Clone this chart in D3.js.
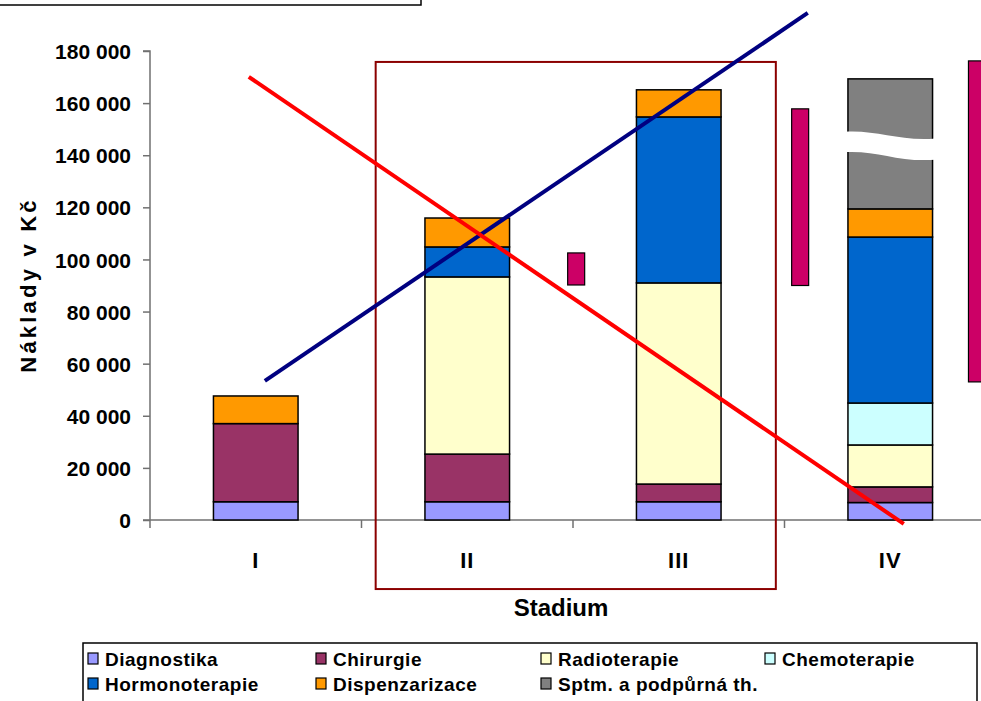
<!DOCTYPE html>
<html>
<head>
<meta charset="utf-8">
<script src="https://cdn.jsdelivr.net/npm/d3@7/dist/d3.min.js"></script>
<style>
  html, body { margin: 0; padding: 0; background: #fff; }
  svg { display: block; }
  text { font-family: "Liberation Sans", Arial, sans-serif; font-weight: bold; fill: #000; }
</style>
</head>
<body>
<svg id="chart" width="981" height="701"></svg>
<script>
// ---------- data ----------
const categories = ["I", "II", "III", "IV"];
const seriesNames = ["Diagnostika", "Chirurgie", "Radioterapie", "Chemoterapie", "Hormonoterapie", "Dispenzarizace", "Sptm. a podpůrná th."];
const seriesColors = ["#9999FF", "#993366", "#FFFFCC", "#CCFFFF", "#0066CC", "#FF9900", "#808080"];
const diagnostika    = [7000, 7000, 7000, 6700];
const chirurgie      = [30000, 18300, 6800, 6000];
const radioterapie   = [0, 68000, 77200, 16100];
const chemoterapie   = [0, 0, 0, 16100];
const hormonoterapie = [0, 11500, 63700, 63700];
const dispenzarizace = [10600, 11100, 10400, 10800];
const sptm           = [0, 0, 0, 49900];
const yTicks = [0, 20000, 40000, 60000, 80000, 100000, 120000, 140000, 160000, 180000];

// break in the IV bar (values of top/bottom edge at left and right side)
const breakCategory = "IV";
const breakTop = [149000, 146400];
const breakBottom = [141200, 138300];

// magenta range bars: position in category units (0 = I ... 3 = IV), low/high values
const rangePos = [1.515, 2.574, 3.41];
const rangeLow = [90200, 90000, 53000];
const rangeHigh = [102500, 157800, 176200];

// annotation lines: [x in category units, value]
const redLine = [[-0.033, 170100], [3.064, -1500]];
const blueLine = [[0.043, 53400], [2.61, 194600]];
// dark red frame around II and III
const frameX = [0.567, 2.459];
const frameY = [-26500, 175800];

// ---------- scales ----------
const svg = d3.select("#chart");
const plotLeft = 150, plotRight = 996, plotTop = 51, plotBottom = 520;
const x = d3.scaleBand().domain(categories).range([plotLeft, plotRight]).padding(0);
const xu = d3.scaleLinear().domain([-0.5, categories.length - 0.5]).range([plotLeft, plotRight]);
const y = d3.scaleLinear().domain([0, 180000]).range([plotBottom, plotTop]);
const barW = x.bandwidth() * 0.4;

// top box
svg.append("rect").attr("x", -2).attr("y", -2).attr("width", 423).attr("height", 7)
  .attr("fill", "none").attr("stroke", "#000").attr("stroke-width", 1.5);

// ---------- axes ----------
const axisColor = "#707070";
const yAxis = svg.append("g").attr("transform", `translate(${plotLeft},0)`)
  .call(d3.axisLeft(y).tickValues(yTicks).tickSize(7).tickPadding(12)
    .tickFormat(d => d3.format(",")(d).replace(/,/g, " ")));
yAxis.select(".domain").attr("stroke", axisColor).attr("stroke-width", 1.5).attr("d", `M-7,${y(180000)}H0V${plotBottom}`);
yAxis.selectAll(".tick line").attr("stroke", axisColor).attr("stroke-width", 1.5);
yAxis.selectAll(".tick text").style("font-size", "21px").attr("dy", "0.36em")
  .attr("fill", "#000").style("font-family", "'Liberation Sans', Arial, sans-serif").style("font-weight", "bold");

// x axis
const xg = svg.append("g");
xg.append("line").attr("x1", plotLeft - 7).attr("x2", 981).attr("y1", plotBottom).attr("y2", plotBottom)
  .attr("stroke", axisColor).attr("stroke-width", 1.5);
const boundaries = [plotLeft].concat(categories.slice(1).map(c => x(c)));
xg.selectAll("line.xt").data(boundaries).join("line").attr("class", "xt")
  .attr("x1", d => d).attr("x2", d => d).attr("y1", plotBottom).attr("y2", plotBottom + 8)
  .attr("stroke", axisColor).attr("stroke-width", 1.5);
xg.selectAll("text.cat").data(categories).join("text").attr("class", "cat")
  .attr("x", d => x(d) + x.bandwidth() / 2).attr("y", 568)
  .attr("text-anchor", "middle").style("font-size", "22px").style("letter-spacing", "1px").text(d => d);

// axis titles
svg.append("text").attr("x", 561).attr("y", 616).attr("text-anchor", "middle")
  .style("font-size", "24px").text("Stadium");
svg.append("text").attr("transform", "translate(36,285) rotate(-90)").attr("text-anchor", "middle")
  .style("font-size", "22px").style("letter-spacing", "3.2px").text("Náklady v Kč");

// ---------- stacked bars ----------
const allSeries = [diagnostika, chirurgie, radioterapie, chemoterapie, hormonoterapie, dispenzarizace, sptm];
const rows = categories.map((c, i) => {
  const r = { cat: c };
  seriesNames.forEach((s, j) => r[s] = allSeries[j][i]);
  return r;
});
const stack = d3.stack().keys(seriesNames)(rows);
const barsG = svg.append("g");
stack.forEach((layer, j) => {
  barsG.selectAll(null).data(layer.filter(d => d[1] - d[0] > 0)).join("rect")
    .attr("x", d => x(d.data.cat) + (x.bandwidth() - barW) / 2)
    .attr("width", barW)
    .attr("y", d => y(d[1]))
    .attr("height", d => y(d[0]) - y(d[1]))
    .attr("fill", seriesColors[j])
    .attr("stroke", "#000").attr("stroke-width", 1.5);
});

// break (white wave) in IV bar
{
  const bx0 = x(breakCategory) + (x.bandwidth() - barW) / 2 - 3;
  const bx1 = bx0 + barW + 6;
  const w = bx1 - bx0;
  const tl = y(breakTop[0]), tr = y(breakTop[1]);
  const bl = y(breakBottom[0]), br = y(breakBottom[1]);
  const p = d3.path();
  p.moveTo(bx0, tl);
  p.bezierCurveTo(bx0 + w * 0.35, tl - 2, bx0 + w * 0.6, tr + 3, bx1, tr);
  p.lineTo(bx1, br);
  p.bezierCurveTo(bx0 + w * 0.6, br + 3, bx0 + w * 0.35, bl - 2, bx0, bl);
  p.closePath();
  svg.append("path").attr("d", p.toString()).attr("fill", "#fff").attr("stroke", "none");
}

// dark red frame
svg.append("rect")
  .attr("x", xu(frameX[0])).attr("width", xu(frameX[1]) - xu(frameX[0]))
  .attr("y", y(frameY[1])).attr("height", y(frameY[0]) - y(frameY[1]))
  .attr("fill", "none").attr("stroke", "#8B0000").attr("stroke-width", 2);

// magenta range bars
const rw = 17;
svg.selectAll("rect.range").data(rangePos).join("rect").attr("class", "range")
  .attr("x", (d) => xu(d) - rw / 2).attr("width", rw)
  .attr("y", (d, i) => y(rangeHigh[i])).attr("height", (d, i) => y(rangeLow[i]) - y(rangeHigh[i]))
  .attr("fill", "#CC0066").attr("stroke", "#000").attr("stroke-width", 1.2);

// annotation lines
const lineGen = d3.line().x(d => xu(d[0])).y(d => y(d[1]));
svg.append("path").attr("d", lineGen(blueLine)).attr("stroke", "#000080").attr("stroke-width", 4).attr("fill", "none");
svg.append("path").attr("d", lineGen(redLine)).attr("stroke", "#FF0000").attr("stroke-width", 4).attr("fill", "none");

// ---------- legend ----------
const leg = svg.append("g");
leg.append("rect").attr("x", 83).attr("y", 643).attr("width", 894).attr("height", 70)
  .attr("fill", "#fff").attr("stroke", "#000").attr("stroke-width", 1.5);
const colX = [88, 316, 541, 765];
const rowY = [659, 684];
seriesNames.forEach((s, i) => {
  const cx = colX[i % 4], cy = rowY[Math.floor(i / 4)];
  leg.append("rect").attr("x", cx).attr("y", cy - 6).attr("width", 10).attr("height", 11)
    .attr("fill", seriesColors[i]).attr("stroke", "#000").attr("stroke-width", 1.2);
  leg.append("text").attr("x", cx + 17).attr("y", cy + 7)
    .style("font-size", "19px").style("letter-spacing", "0.5px").text(s);
});
</script>
</body>
</html>
